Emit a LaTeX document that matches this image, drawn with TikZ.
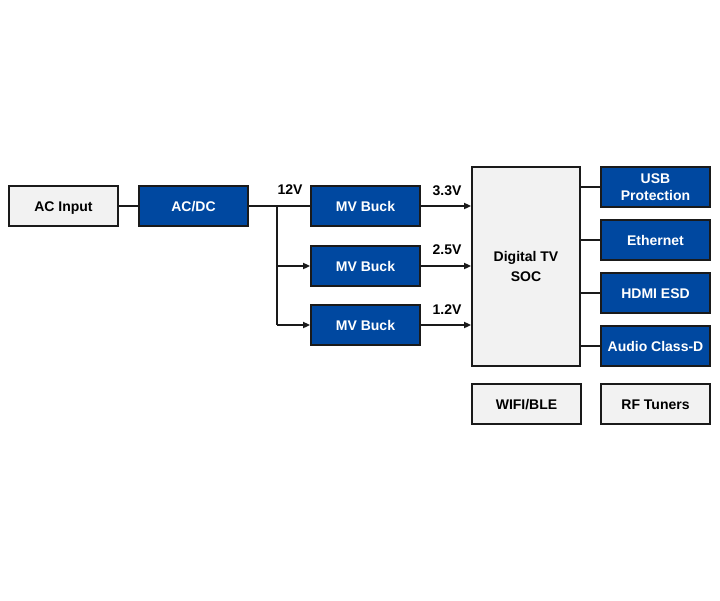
\documentclass[tikz,border=0pt]{standalone}
\usepackage{fontspec}
\setmainfont{Liberation Sans}
\usetikzlibrary{arrows.meta}
\definecolor{tiblue}{HTML}{0048A0}
\definecolor{boxgray}{HTML}{F2F2F2}
\definecolor{lineblk}{HTML}{1A1A1A}
\tikzset{
  base/.style={draw=lineblk, line width=1.8pt, minimum width=109pt, minimum height=40pt, inner sep=0pt, align=center, font=\fontsize{14}{15.5}\selectfont\bfseries},
  grayfill/.style={base, fill=boxgray, text=black},
  bluefill/.style={base, fill=tiblue, text=white},
  oneline/.style={text height=10pt, text depth=0pt},
  graybox/.style={grayfill, oneline},
  bluebox/.style={bluefill, oneline},
  wire/.style={draw=lineblk, line width=2pt},
  arr/.style={wire, -{Triangle[length=7pt,width=6pt]}},
  vlabel/.style={font=\fontsize{14}{15.5}\selectfont\bfseries, text=black, inner sep=0pt}
}
\begin{document}
\begin{tikzpicture}[x=1pt,y=-1pt]
\useasboundingbox (0,0) rectangle (720,600);
\node[graybox] (acin) at (63.5,206) {AC Input};
\node[bluebox] (acdc) at (193.5,206) {AC/DC};
\node[bluebox] (b1) at (365.5,206) {MV Buck};
\node[bluebox] (b2) at (365.5,266) {MV Buck};
\node[bluebox] (b3) at (365.5,325) {MV Buck};
\node[grayfill, minimum width=108pt, minimum height=199pt, font=\fontsize{14}{20}\selectfont\bfseries] (soc) at (526,266.5) {Digital TV\\SOC};
\node[bluefill, font=\fontsize{14}{17.5}\selectfont\bfseries] (usb) at (655.5,187) {USB\\Protection};
\node[bluebox] (eth) at (655.5,240) {Ethernet};
\node[bluebox] (hdmi) at (655.5,293) {HDMI ESD};
\node[bluebox] (aud) at (655.5,346) {Audio Class-D};
\node[graybox] (wifi) at (526.5,404) {WIFI/BLE};
\node[graybox] (rf) at (655.5,404) {RF Tuners};
\coordinate (j) at (277,206);
\coordinate (j2) at (277,266);
\coordinate (j3) at (277,325);
\path[wire] (acin.east) -- (acdc.west);
\path[wire] (acdc.east) -- (b1.west);
\path[wire] (j) -- (j3);
\path[arr] (j2) -- (b2.west);
\path[arr] (j3) -- (b3.west);
\path[arr] (b1.east) -- (b1.east -| soc.west);
\path[arr] (b2.east) -- (b2.east -| soc.west);
\path[arr] (b3.east) -- (b3.east -| soc.west);
\path[wire] (usb.west -| soc.east) -- (usb.west);
\path[wire] (eth.west -| soc.east) -- (eth.west);
\path[wire] (hdmi.west -| soc.east) -- (hdmi.west);
\path[wire] (aud.west -| soc.east) -- (aud.west);
\node[vlabel] (l12) at (290,190) {12V};
\node[vlabel] (l33) at (447,191) {3.3V};
\node[vlabel] (l25) at (447,250) {2.5V};
\node[vlabel] (l12b) at (447,310) {1.2V};
\end{tikzpicture}
\end{document}
